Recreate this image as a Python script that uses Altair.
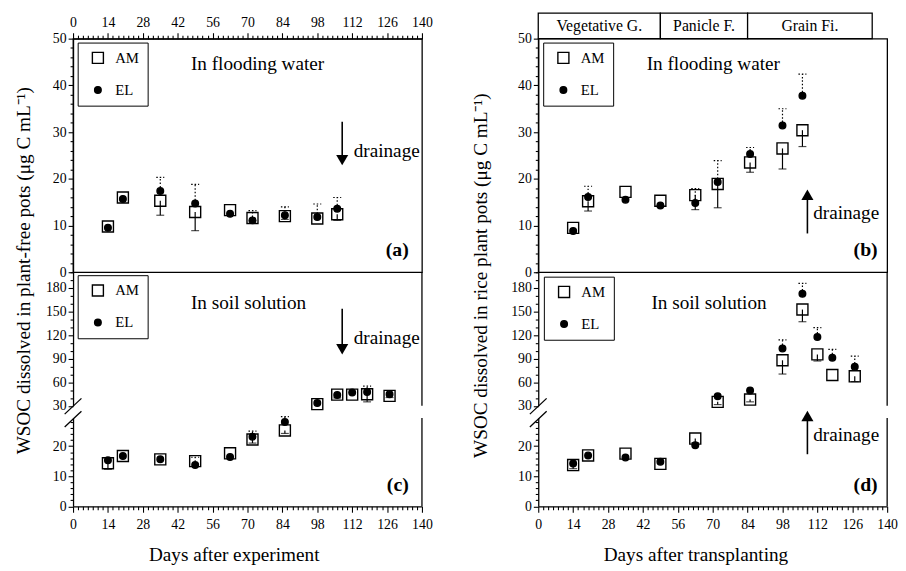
import altair as alt
import pandas as pd

# ---------------- data ----------------
days_flood = [14, 20, 35, 49, 63, 72, 85, 98, 106]
days_soil = [14, 20, 35, 49, 63, 72, 85, 98, 106, 112, 118, 127]

# (a) flooding water, plant-free pots
a_am = [9.8, 16.0, 15.3, 12.9, 13.3, 11.6, 12.0, 11.5, 12.4]
a_el = [9.5, 15.7, 17.4, 14.7, 12.5, 11.1, 12.2, 11.8, 13.6]
a_am_lo = [None, None, 12.2, 8.9, None, 11.0, 11.3, None, 11.1]
a_el_hi = [None, None, 20.3, 18.8, None, 13.2, 14.0, 14.6, 16.0]

# (b) flooding water, rice plant pots
b_am = [9.5, 15.2, 17.2, 15.3, 16.5, 18.9, 23.5, 26.5, 30.4]
b_el = [8.8, 16.1, 15.5, 14.3, 14.8, 19.3, 25.3, 31.4, 37.8]
b_am_lo = [None, 13.1, None, None, 13.4, 13.8, 21.4, 22.1, 26.9]
b_el_hi = [None, 18.4, None, None, 17.9, 23.9, 26.7, 35.0, 42.4]

# (c) soil solution, plant-free pots
c_am = [14.3, 16.7, 15.6, 15.0, 17.6, 22.2, 25.2, 32.1, 44.2, 44.2, 44.7, 42.6]
c_el = [15.3, 16.7, 15.6, 13.7, 16.4, 23.1, 28.0, 33.4, 43.8, 46.8, 47.6, 44.7]
c_am_lo = [12.3, None, None, None, None, 21.0, 24.2, None, 40.0, None, 35.0, 40.5]
c_el_hi = [None, None, None, 16.3, None, 25.0, 29.8, None, None, None, 55.0, None]

# (d) soil solution, rice plant pots
d_am = [13.7, 16.9, 17.5, 14.1, 22.5, 35.0, 37.9, 87.9, 152.5, 95.4, 69.2, 67.5]
d_el = [14.2, 16.9, 16.2, 14.8, 20.3, 42.1, 49.6, 102.9, 172.5, 117.5, 91.2, 79.6]
d_am_lo = [12.5, None, None, None, 21.1, 31.5, 35.0, 70.4, 137.0, 87.0, None, 60.8]
d_el_hi = [None, None, None, None, None, None, None, 114.0, 185.8, 129.6, 101.7, 93.3]

stage_names = ["Vegetative G.", "Panicle F.", "Grain Fi."]
stage_start = [0, 49, 84]
stage_end = [49, 84, 134]

series_names = ["AM", "EL"]

# annotations: (text, day, value) in data units
note_a = ["In flooding water", 47.3, 44.5]
note_b = ["In flooding water", 43.5, 44.6]
note_c = ["In soil solution", 47.3, 161]
note_d = ["In soil solution", 45.4, 161]
drain_a = ["drainage", 112.6, 25.9]
drain_b = ["drainage", 110.3, 12.6]
drain_c = ["drainage", 112.6, 116]
drain_d = ["drainage", 110.3, 23.8]
label_a = ["(a)", 134.7, 4.8]
label_b = ["(b)", 136.2, 4.8]
label_c = ["(c)", 134.7, 6.9]
label_d = ["(d)", 136.2, 6.9]
# arrows: day, shaft start, head position, head shape
arrow_a = [108, 32.2, 24.0, "triangle-down"]
arrow_b = [108, 8.3, 16.6, "triangle-up"]
arrow_c = [108, 153.6, 102.0, "triangle-down"]
arrow_d = [108, 17.3, 30.0, "triangle-up"]

# ---------------- style ----------------
FONT = "Liberation Serif"
W = 354
H_TOP = 26
H_MAIN = 237
H_UP = 135.5
H_GAP = 11.5
H_LOW = 89.5
XS = alt.Scale(domain=[0, 140], nice=False, zero=False)
X_VALUES = list(range(0, 141, 2))
SPLIT = 29.5


def make_df(days, am, el, am_lo, el_hi):
    rows = []
    for d, v, e in zip(days, am, am_lo):
        rows.append({"day": d, "value": v, "series": "AM", "err": e})
    for d, v, e in zip(days, el, el_hi):
        rows.append({"day": d, "value": v, "series": "EL", "err": e})
    return pd.DataFrame(rows)


def x_axis(orient, title=None, title_x=0):
    kw = dict(
        orient=orient,
        values=X_VALUES,
        labelExpr="datum.value % 14 === 0 ? datum.label : ''",
        tickSize={"condition": {"test": "datum.value % 14 === 0", "value": 6}, "value": 3.5},
        labelOverlap=False,
        labelFlush=False,
        labelPadding=3 if orient == "top" else 6,
        grid=False,
    )
    if title:
        kw.update(title=title, titleX=title_x, titleY=55, titleAlign="center",
                  titleBaseline="alphabetic", titleFontSize=19.5)
    else:
        kw.update(title=None)
    return alt.Axis(**kw)


def y_axis(values, test, title=None, title_x=-44, title_y=0):
    kw = dict(
        orient="left",
        values=values,
        labelExpr=f"({test}) ? datum.label : ''",
        tickSize={"condition": {"test": test, "value": 5}, "value": 3},
        labelOverlap=False,
        labelFlush=False,
        labelPadding=2,
        grid=False,
    )
    if title:
        kw.update(title=title, titleX=title_x, titleY=title_y, titleAngle=270,
                  titleAlign="center", titleBaseline="alphabetic", titleFontSize=19.5)
    else:
        kw.update(title=None)
    return alt.Axis(**kw)


def legend(lx, ly):
    return alt.Legend(orient="none", legendX=lx, legendY=ly, title=None,
                      strokeColor="black", fillColor="white", padding=8,
                      rowPadding=16.5, symbolOffset=5, labelOffset=10,
                      labelFontSize=15, labelFont=FONT, labelColor="black",
                      symbolStrokeColor="black", symbolStrokeWidth=1.4)


def panel(df, ysc, xax, yax, leg, notes, labels, drains, arrows, h, framed, filt=None):
    x = alt.X("day:Q", scale=XS, axis=xax)
    base = alt.Chart(df)
    if filt:
        base = base.transform_filter(filt)

    def Y(field):
        return alt.Y(field, scale=ysc, axis=yax)

    am_err = base.transform_filter("datum.series == 'AM' && isValid(datum.err)")
    el_err = base.transform_filter("datum.series == 'EL' && isValid(datum.err)")
    layers = [
        am_err.mark_rule(color="black", strokeWidth=1.2).encode(x=x, y=Y("value:Q"), y2="err:Q"),
        am_err.mark_tick(orient="horizontal", size=8, thickness=1.2, color="black").encode(x=x, y=Y("err:Q")),
        el_err.mark_rule(color="black", strokeWidth=1.2, strokeDash=[1.5, 2]).encode(x=x, y=Y("value:Q"), y2="err:Q"),
        el_err.mark_rule(color="black", strokeWidth=1.2, strokeDash=[1.5, 2]).encode(
            x=alt.X("x1:Q", scale=XS, axis=xax), x2="x2:Q", y=Y("err:Q")
        ).transform_calculate(x1="datum.day - 1.6", x2="datum.day + 1.6"),
    ]
    lg = leg
    layers.append(
        base.mark_point(filled=True, opacity=1, strokeWidth=1.4).encode(
            x=x, y=Y("value:Q"),
            shape=alt.Shape("series:N", scale=alt.Scale(domain=series_names, range=["square", "circle"]), legend=lg),
            fill=alt.Fill("series:N", scale=alt.Scale(domain=series_names, range=["transparent", "black"]), legend=lg),
            stroke=alt.Stroke("series:N", scale=alt.Scale(domain=series_names, range=["black", "black"]), legend=lg),
            size=alt.Size("series:N", scale=alt.Scale(domain=series_names, range=[125, 45]), legend=lg),
        )
    )
    for group, kw in ((notes, dict(align="left", fontSize=19.5)),
                      (drains, dict(align="left", fontSize=19.5)),
                      (labels, dict(align="right", fontSize=20, fontWeight="bold"))):
        for n in group:
            ndf = pd.DataFrame([{"text": n[0], "day": n[1], "value": n[2]}])
            layers.append(alt.Chart(ndf).mark_text(baseline="middle", font=FONT, color="black", **kw)
                          .encode(x=x, y=Y("value:Q"), text="text:N"))
    for a in arrows:
        adf = pd.DataFrame([{"day": a[0], "y0": a[1], "y1": a[2]}])
        layers.append(alt.Chart(adf).mark_rule(color="black", strokeWidth=1.6)
                      .encode(x=x, y=Y("y0:Q"), y2="y1:Q"))
        layers.append(alt.Chart(adf).mark_point(filled=True, opacity=1, color="black", size=150, shape=a[3])
                      .encode(x=x, y=Y("y1:Q")))
    if not framed:
        one = pd.DataFrame([{"k": 0}])
        layers.append(alt.Chart(one).mark_rule(color="black", strokeWidth=1.3)
                      .encode(x=alt.value(W), y=alt.value(0), y2=alt.value(h)))
    ch = alt.layer(*layers).properties(width=W, height=h)
    if framed:
        ch = ch.properties(view=alt.ViewBackground(stroke="black", strokeWidth=1.3))
    return ch


def spacer(h):
    return alt.Chart(pd.DataFrame([{"k": 0}])).mark_point(opacity=0).encode(
        x=alt.X("k:Q", axis=None), y=alt.Y("k:Q", axis=None)).properties(width=W, height=h)


def gap():
    one = pd.DataFrame([{"k": 0}])
    l1 = alt.Chart(one).mark_rule(color="black", strokeWidth=1.3).encode(
        x=alt.value(-8.5), x2=alt.value(8.5), y=alt.value(8), y2=alt.value(-8))
    l2 = alt.Chart(one).mark_rule(color="black", strokeWidth=1.3).encode(
        x=alt.value(-8.5), x2=alt.value(8.5), y=alt.value(21), y2=alt.value(5))
    return alt.layer(l1, l2).properties(width=W, height=H_GAP)


df_a = make_df(days_flood, a_am, a_el, a_am_lo, a_el_hi)
df_b = make_df(days_flood, b_am, b_el, b_am_lo, b_el_hi)
df_c = make_df(days_soil, c_am, c_el, c_am_lo, c_el_hi)
df_d = make_df(days_soil, d_am, d_el, d_am_lo, d_el_hi)

Y_MAIN = alt.Scale(domain=[0, 50], nice=False, zero=False)
Y_UP = alt.Scale(domain=[30, 200], nice=False, zero=False)
Y_LOW = alt.Scale(domain=[0, 29.3], nice=False, zero=False)

main_vals = list(range(0, 51, 2))
up_vals = list(range(30, 201, 10))
low_vals = list(range(0, 29, 2))
t_main = "datum.value % 10 === 0"
t_up = "datum.value % 30 === 0 && datum.value <= 180"
t_low = "datum.value % 10 === 0"

title_left = "WSOC dissolved in plant-free pots (\u03bcg C mL\u207b\u00b9)"
title_right = "WSOC dissolved in rice plant pots (\u03bcg C mL\u207b\u00b9)"

pa = panel(df_a, Y_MAIN, x_axis("top"), y_axis(main_vals, t_main, title_left, -44, 235),
           legend(4.7, 4), [note_a], [label_a], [drain_a], [arrow_a], H_MAIN, True)
pcu = panel(df_c, Y_UP, None, y_axis(up_vals, t_up), legend(4.7, 3),
            [note_c], [], [drain_c], [arrow_c], H_UP, False, filt=f"datum.value >= {SPLIT}")
pcl = panel(df_c, Y_LOW, x_axis("bottom", "Days after experiment", 163), y_axis(low_vals, t_low), None,
            [], [label_c], [], [], H_LOW, False, filt=f"datum.value < {SPLIT}")

pb = panel(df_b, Y_MAIN, None, y_axis(main_vals, t_main, title_right, -52, 240),
           legend(5, 4), [note_b], [label_b], [drain_b], [arrow_b], H_MAIN, True)
pdu = panel(df_d, Y_UP, None, y_axis(up_vals, t_up), legend(5.7, 4.5),
            [note_d], [], [], [], H_UP, False, filt=f"datum.value >= {SPLIT}")
pdl = panel(df_d, Y_LOW, x_axis("bottom", "Days after transplanting", 159.5), y_axis(low_vals, t_low), None,
            [], [label_d], [drain_d], [arrow_d], H_LOW, False, filt=f"datum.value < {SPLIT}")

stage_df = pd.DataFrame({"name": stage_names, "start": stage_start, "end": stage_end})
band_rect = alt.Chart(stage_df).mark_rect(fill="white", stroke="black", strokeWidth=1.3).encode(
    x=alt.X("start:Q", scale=XS, axis=None), x2="end:Q", y=alt.value(0), y2=alt.value(H_TOP))
band_text = alt.Chart(stage_df).transform_calculate(mid="(datum.start + datum.end) / 2").mark_text(
    fontSize=16, font=FONT, color="black", baseline="middle").encode(
    x=alt.X("mid:Q", scale=XS, axis=None), y=alt.value(H_TOP / 2), text="name:N")
band = alt.layer(band_rect, band_text).properties(width=W, height=H_TOP)

res = dict(shape="independent", fill="independent", size="independent", stroke="independent")
left = alt.vconcat(spacer(H_TOP), pa, pcu, gap(), pcl, spacing=0, bounds="flush").resolve_scale(**res)
right = alt.vconcat(band, pb, pdu, gap(), pdl, spacing=0, bounds="flush").resolve_scale(**res)

chart = alt.hconcat(left, right, spacing=37).resolve_scale(**res).properties(
    padding={"left": 5, "top": 0, "right": 0, "bottom": 0}
).configure_view(stroke=None).configure_axis(
    labelFont=FONT, labelFontSize=14, labelColor="black", titleFont=FONT, titleColor="black",
    titleFontWeight="normal", domainColor="black", tickColor="black", domainWidth=1.3, tickWidth=1.1
)

chart.save("out.html", embed_options={"renderer": "svg", "actions": False})
